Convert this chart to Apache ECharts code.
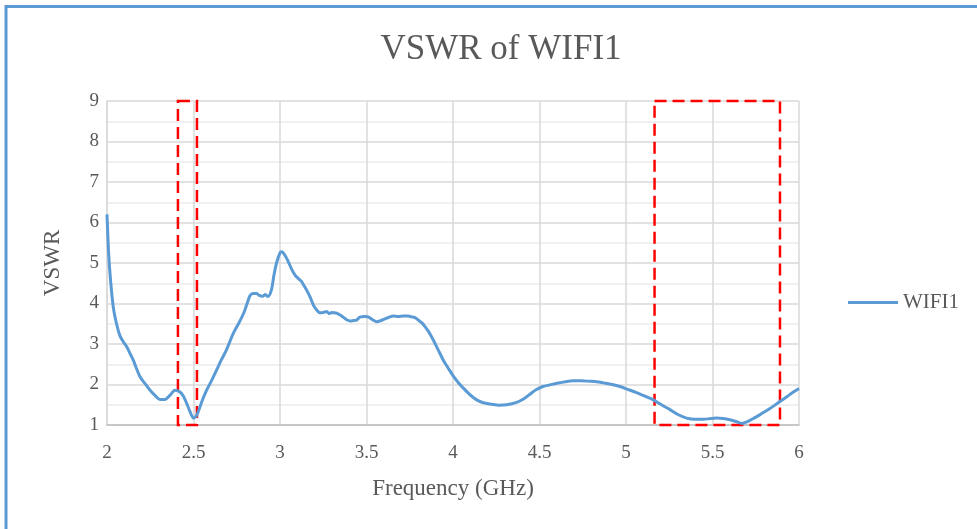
<!DOCTYPE html>
<html>
<head>
<meta charset="utf-8">
<title>VSWR of WIFI1</title>
<script src="https://cdn.jsdelivr.net/npm/echarts@6/dist/echarts.min.js"></script>
<style>
  html, body { margin: 0; padding: 0; background: #fff; }
  #chart { width: 977px; height: 529px; }
</style>
</head>
<body>
<div id="chart"></div>
<script>
// frequency points (GHz)
const freq = [2.0, 2.01, 2.02, 2.036, 2.055, 2.075, 2.095, 2.114, 2.135, 2.152, 2.17, 2.19, 2.22, 2.249, 2.28, 2.306, 2.335, 2.365, 2.393, 2.42,
  2.44, 2.46, 2.48, 2.5, 2.52, 2.55, 2.576, 2.605, 2.634, 2.66, 2.69, 2.73, 2.76, 2.79, 2.81, 2.827, 2.845, 2.865, 2.88, 2.9,
  2.915, 2.93, 2.95, 2.965, 2.98, 3.0, 3.01, 3.03, 3.048, 3.067, 3.087, 3.105, 3.125, 3.14, 3.154, 3.175, 3.193, 3.21, 3.231, 3.25,
  3.27, 3.285, 3.3, 3.328, 3.345, 3.366, 3.385, 3.405, 3.425, 3.443, 3.46, 3.47, 3.49, 3.51, 3.535, 3.559, 3.585, 3.607, 3.63, 3.655,
  3.685, 3.713, 3.74, 3.76, 3.78, 3.8, 3.82, 3.838, 3.86, 3.886, 3.915, 3.944, 3.97, 4.0, 4.03, 4.06, 4.09, 4.117, 4.145, 4.175,
  4.22, 4.262, 4.31, 4.368, 4.41, 4.445, 4.48, 4.52, 4.56, 4.6, 4.65, 4.695, 4.74, 4.79, 4.83, 4.87, 4.92, 4.965, 5.01, 5.06,
  5.11, 5.158, 5.205, 5.254, 5.3, 5.35, 5.4, 5.447, 5.49, 5.524, 5.56, 5.6, 5.64, 5.67, 5.7, 5.736, 5.78, 5.83, 5.88, 5.93,
  5.97, 6.0]

const vswr = [6.2, 5.2, 4.6, 3.92, 3.5, 3.2, 3.05, 2.93, 2.75, 2.6, 2.4, 2.2, 2.02, 1.86, 1.72, 1.63, 1.63, 1.74, 1.86, 1.82,
  1.72, 1.54, 1.33, 1.17, 1.25, 1.6, 1.86, 2.1, 2.36, 2.6, 2.85, 3.26, 3.5, 3.76, 4.0, 4.2, 4.25, 4.25, 4.2, 4.18,
  4.22, 4.17, 4.33, 4.7, 5.0, 5.25, 5.28, 5.18, 5.03, 4.85, 4.7, 4.62, 4.54, 4.43, 4.33, 4.15, 3.96, 3.85, 3.77, 3.78,
  3.8, 3.75, 3.78, 3.76, 3.72, 3.66, 3.6, 3.57, 3.58, 3.59, 3.66, 3.67, 3.68, 3.67, 3.6, 3.55, 3.58, 3.62, 3.66, 3.69,
  3.68, 3.69, 3.69, 3.67, 3.65, 3.59, 3.52, 3.43, 3.3, 3.1, 2.85, 2.6, 2.42, 2.22, 2.05, 1.91, 1.78, 1.68, 1.6, 1.55,
  1.51, 1.49, 1.5, 1.56, 1.65, 1.76, 1.87, 1.95, 1.99, 2.03, 2.07, 2.09, 2.09, 2.08, 2.07, 2.04, 2.0, 1.95, 1.88, 1.8,
  1.71, 1.62, 1.5, 1.38, 1.26, 1.17, 1.14, 1.14, 1.16, 1.17, 1.16, 1.13, 1.08, 1.04, 1.08, 1.16, 1.27, 1.4, 1.55, 1.7,
  1.82, 1.9]

// highlighted bands [from, to] in GHz
const bandLow = [2.41, 2.52]
const bandHigh = [5.165, 5.89]

const seriesName = 'WIFI1'
const textColor = '#595959'
const serif = '"Liberation Serif", "Times New Roman", serif'

const chart = echarts.init(document.getElementById('chart'))

const boxStyle = {
  color: 'rgba(0,0,0,0)',
  borderColor: '#ff0000',
  borderWidth: 2.5,
  borderType: [12, 6]
}

const option = {
  animation: false,
  backgroundColor: '#fff',
  title: {
    text: 'VSWR of WIFI1',
    left: 496,
    top: 27,
    textAlign: 'center',
    textStyle: { fontFamily: serif, fontSize: 35, fontWeight: 'normal', color: textColor }
  },
  legend: {
    data: [seriesName],
    left: 843,
    top: 287,
    icon: 'rect',
    itemWidth: 50,
    itemHeight: 3,
    itemGap: 6,
    textStyle: { fontFamily: serif, fontSize: 21, color: textColor, padding: [0, 0, 0, 0] }
  },
  grid: { left: 107, right: 178, top: 101, bottom: 104 },
  xAxis: {
    type: 'value',
    min: 2,
    max: 6,
    interval: 0.5,
    name: 'Frequency (GHz)',
    nameLocation: 'middle',
    nameGap: 52,
    nameTextStyle: { fontFamily: serif, fontSize: 23, color: textColor },
    axisLine: { show: true, lineStyle: { color: '#bfbfbf', width: 1.5 } },
    axisTick: { show: false },
    axisLabel: { margin: 19, fontFamily: serif, fontSize: 19, color: textColor },
    splitLine: { show: true, lineStyle: { color: '#d9d9d9', width: 1.5 } }
  },
  yAxis: {
    type: 'value',
    min: 1,
    max: 9,
    interval: 1,
    name: 'VSWR',
    nameLocation: 'middle',
    nameGap: 43,
    nameTextStyle: { fontFamily: serif, fontSize: 23, color: textColor },
    axisLine: { show: true, lineStyle: { color: '#d9d9d9', width: 1.5 } },
    axisTick: { show: false },
    axisLabel: { margin: 8, fontFamily: serif, fontSize: 19, color: textColor },
    splitLine: { show: true, lineStyle: { color: '#d9d9d9', width: 1.5 } },
    minorTick: { show: false, splitNumber: 2 },
    minorSplitLine: { show: true, lineStyle: { color: '#ececec', width: 1.5 } }
  },
  series: [
    {
      name: seriesName,
      type: 'line',
      data: freq.map((f, i) => [f, vswr[i]]),
      showSymbol: false,
      symbol: 'none',
      smooth: 0.3,
      lineStyle: { color: '#5b9bd5', width: 3 },
      itemStyle: { color: '#5b9bd5' },
      markArea: {
        silent: true,
        itemStyle: boxStyle,
        data: [
          [{ xAxis: bandLow[0], yAxis: 9 }, { xAxis: bandLow[1], yAxis: 1 }],
          [{ xAxis: bandHigh[0], yAxis: 9 }, { xAxis: bandHigh[1], yAxis: 1 }]
        ]
      },
      z: 3
    }
  ],
  graphic: [
    {
      type: 'rect',
      shape: { x: 6, y: 6.5, width: 1000, height: 600 },
      style: { fill: 'none', stroke: '#5b9bd5', lineWidth: 3 },
      silent: true
    }
  ]
}

chart.setOption(option)
</script>
</body>
</html>
